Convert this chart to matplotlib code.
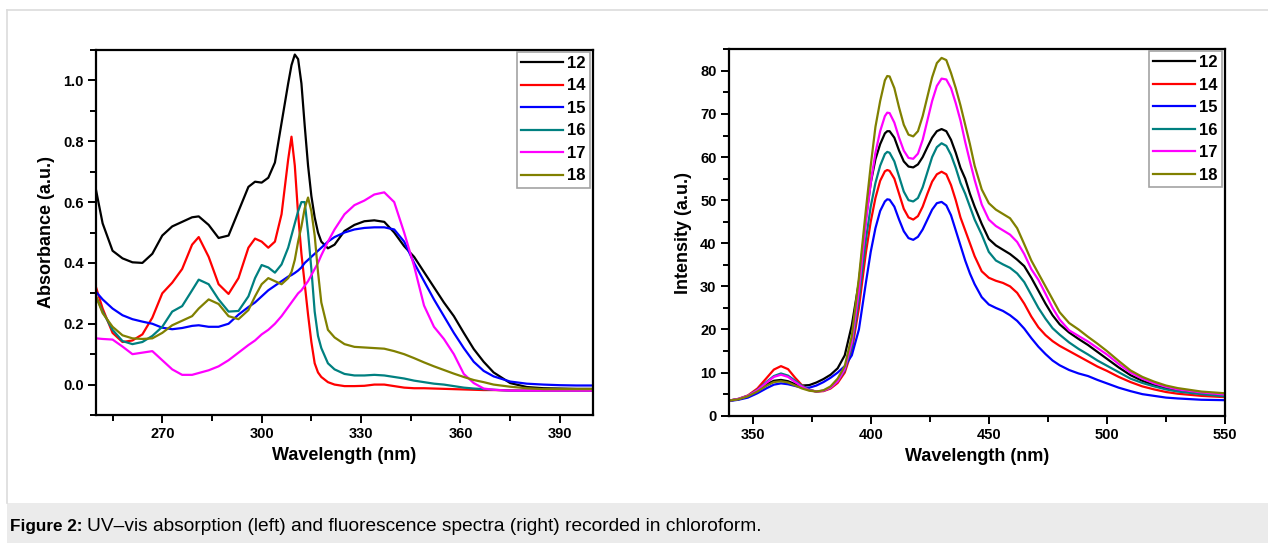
import matplotlib
matplotlib.use("Agg")
import matplotlib.pyplot as plt
from matplotlib.patches import Rectangle
from matplotlib.lines import Line2D
from matplotlib.ticker import MultipleLocator

plt.rcParams['font.family'] = ['Liberation Sans', 'DejaVu Sans']
plt.rcParams['font.weight'] = 'bold'

labels = ["12", "14", "15", "16", "17", "18"]
colors = ["#000000", "#ff0000", "#0000ff", "#008080", "#ff00ff", "#808000"]

# UV-vis absorption (left)
wl_abs = [250, 252, 255, 258, 261, 264, 267, 270, 273, 276, 279, 281, 284, 287, 290,
          293, 296, 298, 300, 302, 304, 306, 308, 309, 310, 311, 312, 313, 314, 315,
          316, 317, 318, 320, 322, 325, 328, 331, 334, 337, 340, 343, 346, 349, 352,
          355, 358, 361, 364, 367, 370, 375, 380, 385, 390, 395, 400]
abs_12 = [0.64, 0.53, 0.44, 0.415, 0.402, 0.40, 0.43, 0.49, 0.52, 0.535, 0.55, 0.553, 0.525, 0.482, 0.49,
          0.57, 0.65, 0.667, 0.664, 0.68, 0.73, 0.86, 0.99, 1.05, 1.085, 1.07, 0.99, 0.85, 0.72, 0.62,
          0.55, 0.50, 0.47, 0.448, 0.46, 0.505, 0.525, 0.537, 0.54, 0.535, 0.50, 0.455, 0.42, 0.37, 0.32,
          0.27, 0.225, 0.17, 0.117, 0.075, 0.04, 0.005, -0.008, -0.012, -0.013, -0.014, -0.014]
abs_14 = [0.32, 0.25, 0.17, 0.14, 0.145, 0.165, 0.22, 0.30, 0.335, 0.38, 0.46, 0.485, 0.42, 0.33, 0.298,
          0.35, 0.45, 0.48, 0.47, 0.45, 0.47, 0.56, 0.74, 0.815, 0.72, 0.56, 0.43, 0.33, 0.23, 0.14,
          0.07, 0.04, 0.025, 0.008, 0.0, -0.005, -0.005, -0.004, 0.0, 0.0, -0.005, -0.01, -0.012, -0.012, -0.013,
          -0.014, -0.015, -0.016, -0.017, -0.018, -0.018, -0.019, -0.02, -0.02, -0.02, -0.02, -0.02]
abs_15 = [0.305, 0.28, 0.25, 0.228, 0.215, 0.207, 0.20, 0.187, 0.182, 0.186, 0.193, 0.195, 0.19, 0.19, 0.20,
          0.23, 0.255, 0.27, 0.29, 0.31, 0.325, 0.34, 0.355, 0.36, 0.367, 0.375, 0.385, 0.40, 0.41, 0.42,
          0.43, 0.44, 0.45, 0.47, 0.485, 0.50, 0.51, 0.515, 0.517, 0.517, 0.51, 0.47, 0.40, 0.34, 0.28,
          0.225, 0.17, 0.12, 0.075, 0.045, 0.027, 0.01, 0.003, 0.0, -0.002, -0.003, -0.003]
abs_16 = [0.29, 0.24, 0.18, 0.143, 0.133, 0.14, 0.16, 0.19, 0.24, 0.258, 0.31, 0.345, 0.33, 0.28, 0.24,
          0.242, 0.29, 0.35, 0.393, 0.385, 0.368, 0.395, 0.45, 0.49, 0.53, 0.57, 0.60, 0.60, 0.50, 0.38,
          0.24, 0.16, 0.12, 0.07, 0.05, 0.035, 0.03, 0.03, 0.032, 0.03, 0.025, 0.02, 0.013, 0.008, 0.003,
          0.0, -0.005, -0.01, -0.013, -0.015, -0.017, -0.02, -0.02, -0.02, -0.02, -0.02, -0.02]
abs_17 = [0.152, 0.15, 0.148, 0.125, 0.10, 0.105, 0.11, 0.08, 0.05, 0.032, 0.032, 0.038, 0.047, 0.06, 0.08,
          0.105, 0.13, 0.145, 0.165, 0.18, 0.20, 0.225, 0.255, 0.27, 0.285, 0.30, 0.31, 0.325, 0.34, 0.36,
          0.38, 0.40, 0.425, 0.47, 0.51, 0.56, 0.59, 0.605, 0.625, 0.632, 0.60, 0.50, 0.39, 0.26, 0.19,
          0.15, 0.10, 0.035, 0.005, -0.013, -0.017, -0.02, -0.02, -0.02, -0.02, -0.02, -0.02]
abs_18 = [0.29, 0.235, 0.19, 0.162, 0.152, 0.15, 0.152, 0.17, 0.195, 0.21, 0.225, 0.25, 0.28, 0.265, 0.225,
          0.215, 0.245, 0.29, 0.33, 0.35, 0.34, 0.33, 0.35, 0.37, 0.41, 0.47, 0.52, 0.58, 0.615, 0.57,
          0.49, 0.37, 0.27, 0.18, 0.155, 0.133, 0.124, 0.122, 0.12, 0.118, 0.11, 0.10, 0.087, 0.073, 0.06,
          0.048, 0.036, 0.025, 0.015, 0.008, 0.0, -0.007, -0.012, -0.015, -0.015, -0.015, -0.015]

# fluorescence (right)
wl_fl = [340, 344, 348, 352, 356, 359, 362, 365, 368, 371, 374, 377, 380, 383, 386, 389, 392, 395,
         398, 400, 402, 404, 406, 407, 408, 410, 412, 414, 416, 418, 420, 422, 424, 426, 428, 430,
         432, 434, 436, 438, 440, 442, 444, 447, 450, 453, 456, 459, 462, 465, 468, 471, 474, 477,
         480, 484, 488, 492, 496, 500, 505, 510, 515, 520, 525, 530, 540, 550]
fl_12 = [3.5, 3.8, 4.5, 5.8, 7.3, 8.1, 8.3, 8.0, 7.3, 7.0, 7.1, 7.7, 8.5, 9.5, 11.0, 14.0, 21.0, 31.0,
         46.0, 54.0, 59.5, 63.0, 65.5, 66.0, 66.0, 64.5, 61.5, 59.0, 57.8, 57.6, 58.3, 60.0, 62.3, 64.5, 66.0, 66.5,
         66.0, 64.0, 61.0, 57.5, 55.0, 51.5, 48.5, 44.5, 41.0, 39.5, 38.5, 37.5, 36.2, 34.7, 32.0, 29.0, 26.0, 23.3,
         21.2, 19.3, 17.8, 16.4, 14.8, 13.2, 11.2, 9.4, 8.1, 7.1, 6.4, 5.9, 5.3, 4.9]
fl_14 = [3.5, 3.9, 4.7, 6.3, 8.8, 10.7, 11.5, 10.8, 8.8, 7.0, 6.0, 5.6, 5.7, 6.3, 7.6, 10.0, 15.0, 25.0,
         38.0, 45.0, 50.5, 54.5, 56.7, 57.0, 56.8, 55.0, 51.5, 48.0, 46.0, 45.5, 46.3, 48.5, 51.5, 54.3, 56.0, 56.6,
         56.0, 53.5, 50.0, 46.0, 43.0, 40.0, 37.0, 33.5, 32.0, 31.3, 30.8, 30.0, 28.5, 26.0, 23.0, 20.5, 18.7, 17.3,
         16.2, 15.0, 13.8, 12.6, 11.4, 10.4, 9.0, 7.8, 6.8, 6.1, 5.5, 5.1, 4.6, 4.3]
fl_15 = [3.4, 3.7, 4.2, 5.2, 6.4, 7.2, 7.5, 7.3, 6.9, 6.5, 6.5, 7.0, 7.8, 8.8, 10.0, 11.5, 14.0, 20.0,
         31.0, 38.0, 43.5, 47.5, 49.7, 50.2, 50.1, 48.5, 45.5, 42.8, 41.2, 40.8, 41.5, 43.2, 45.5, 47.8, 49.3, 49.6,
         48.8, 46.5, 43.0, 39.5, 36.0, 33.0, 30.5, 27.5, 25.8, 25.0, 24.3, 23.3, 22.0, 20.2, 18.0, 16.0, 14.3, 12.8,
         11.7, 10.6, 9.8, 9.2, 8.3, 7.5, 6.5, 5.7, 5.0, 4.6, 4.2, 4.0, 3.7, 3.6]
fl_16 = [3.5, 3.9, 4.6, 6.0, 7.9, 9.2, 9.8, 9.3, 8.1, 6.9, 6.0, 5.6, 5.8, 6.5, 8.0, 10.5, 16.0, 27.0,
         41.0, 48.5, 54.0, 58.0, 60.7, 61.2, 61.0, 59.0, 55.5, 52.0, 50.0, 49.7, 50.5, 53.0, 56.5, 60.0, 62.3, 63.2,
         62.6, 60.5, 57.5, 54.0, 51.5, 48.5, 45.5, 42.0, 38.0, 36.0, 35.1, 34.3, 33.0, 31.0, 28.0, 25.0, 22.5, 20.3,
         18.8, 17.0, 15.5, 14.2, 12.8, 11.6, 10.1, 8.6, 7.6, 6.8, 6.1, 5.6, 5.0, 4.5]
fl_17 = [3.5, 3.9, 4.6, 5.9, 7.7, 9.0, 9.5, 9.0, 7.8, 6.7, 5.9, 5.6, 5.8, 6.5, 8.0, 10.8, 17.0, 29.0,
         45.0, 54.0, 61.0, 66.0, 69.5, 70.3, 70.2, 68.0, 64.5, 61.5, 59.8, 59.6, 60.8, 64.0, 68.5, 73.0, 76.5, 78.2,
         78.0, 76.0, 72.5, 68.5, 63.5, 59.0, 54.7, 49.0, 45.5, 44.0, 43.0, 42.0, 40.3, 37.5, 34.0, 31.5, 28.3, 25.0,
         22.3, 19.8, 18.5, 17.2, 15.7, 14.2, 12.0, 10.0, 8.6, 7.5, 6.7, 6.1, 5.4, 4.9]
fl_18 = [3.5, 3.8, 4.5, 5.6, 7.0, 7.8, 8.0, 7.7, 7.0, 6.3, 5.8, 5.6, 5.9, 6.8, 8.6, 11.5, 18.5, 32.0,
         48.0, 58.0, 67.0, 73.0, 77.8, 78.8, 78.7, 76.0, 71.5, 67.5, 65.2, 64.8, 66.0, 69.5, 74.0, 78.5, 81.8, 83.0,
         82.5, 79.5, 76.0, 72.0, 67.5, 63.0, 58.0, 52.5, 49.3, 47.8, 46.8, 45.8, 43.5, 39.8, 36.0, 33.0, 30.0, 27.0,
         24.0, 21.5, 20.0, 18.3, 16.7, 15.0, 12.7, 10.5, 9.0, 7.9, 7.0, 6.4, 5.6, 5.2]

abs_all = [abs_12, abs_14, abs_15, abs_16, abs_17, abs_18]
fl_all = [fl_12, fl_14, fl_15, fl_16, fl_17, fl_18]

caption_bold = "Figure 2:"
caption_rest = "UV\u2013vis absorption (left) and fluorescence spectra (right) recorded in chloroform."

fig = plt.figure(figsize=(12.68, 5.43), dpi=100)

# page frame + caption band
fig.add_artist(Line2D([7/1268, 1.0], [1-10/543, 1-10/543], transform=fig.transFigure, color="#dcdcdc", lw=1.2))
fig.add_artist(Line2D([7/1268, 7/1268], [1-10/543, 40/543], transform=fig.transFigure, color="#dcdcdc", lw=1.2))
fig.patches.append(Rectangle((7/1268, 0), 1, 40/543, transform=fig.transFigure, facecolor="#ebebeb", edgecolor="none"))

ax1 = fig.add_axes([96/1268, 128/543, 497/1268, 365/543])
ax2 = fig.add_axes([729/1268, 127.3/543, 496/1268, 366.4/543])

for y, lab, c in zip(abs_all, labels, colors):
    ax1.plot(wl_abs, y, color=c, lw=1.6, label=lab)
for y, lab, c in zip(fl_all, labels, colors):
    ax2.plot(wl_fl, y, color=c, lw=1.6, label=lab)

ax1.set_xlim(250, 400)
ax1.set_ylim(-0.1, 1.1)
ax1.xaxis.set_minor_locator(MultipleLocator(15))
ax1.set_xticks([270, 300, 330, 360, 390])
ax1.yaxis.set_major_locator(MultipleLocator(0.2))
ax1.yaxis.set_minor_locator(MultipleLocator(0.1))
ax1.set_ylabel("Absorbance (a.u.)", fontsize=13, fontweight="bold", labelpad=6)
ax1.set_xlabel("Wavelength (nm)", fontsize=13, fontweight="bold", labelpad=4)

ax2.set_xlim(340, 550)
ax2.set_ylim(0, 85)
ax2.xaxis.set_major_locator(MultipleLocator(50))
ax2.xaxis.set_minor_locator(MultipleLocator(25))
ax2.yaxis.set_major_locator(MultipleLocator(10))
ax2.yaxis.set_minor_locator(MultipleLocator(5))
ax2.set_ylabel("Intensity (a.u.)", fontsize=13, fontweight="bold", labelpad=6)
ax2.set_xlabel("Wavelength (nm)", fontsize=13, fontweight="bold", labelpad=4)

for ax in (ax1, ax2):
    for s in ax.spines.values():
        s.set_linewidth(1.6)
    ax.tick_params(which="both", direction="out", top=False, right=False, width=1.4)
    ax.tick_params(which="major", length=6, labelsize=10.5, pad=3)
    ax.tick_params(which="minor", length=4)
    for t in ax.get_xticklabels() + ax.get_yticklabels():
        t.set_fontweight("bold")
    leg = ax.legend(loc="upper right", bbox_to_anchor=(0.993, 0.995), frameon=True, fancybox=False,
                    edgecolor="#8c8c8c", handlelength=2.5, handletextpad=0.25, labelspacing=0.45,
                    borderpad=0.25, borderaxespad=0.0, prop={"weight": "bold", "size": 12})
    leg.get_frame().set_linewidth(1.2)

t1 = fig.text(10/1268, 12/543, caption_bold, fontsize=12.3, fontweight="bold", family="Liberation Sans", va="baseline")
fig.canvas.draw()
bb = t1.get_window_extent(renderer=fig.canvas.get_renderer())
fig.text((bb.x1 + 4)/1268, 12/543, caption_rest, fontsize=13.8, fontweight="normal", family="Liberation Sans", va="baseline")

fig.savefig("out.png", dpi=100)
